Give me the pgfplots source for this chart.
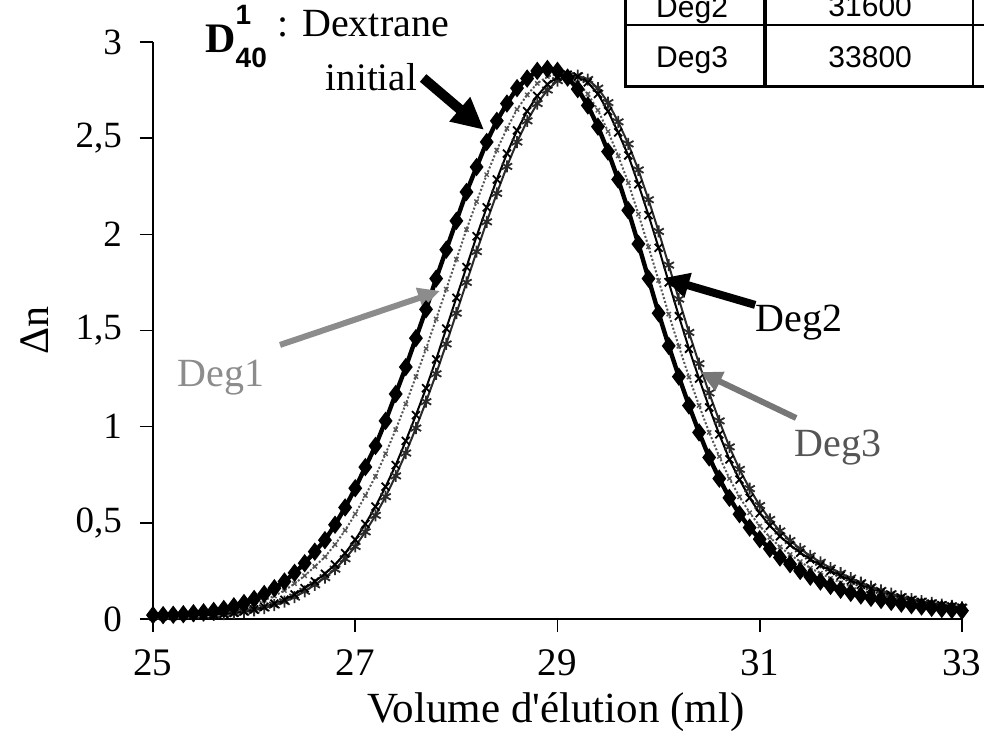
\documentclass[border=0pt]{standalone}
\usepackage{pgfplots}
\pgfplotsset{compat=1.18}
\usepackage{pgfplotstable}
\usepackage{fontspec}
\setmainfont{Liberation Serif}
\setsansfont{Liberation Sans}
\newfontfamily\rawserif{Liberation Serif}[Ligatures=TeXOff]
\usetikzlibrary{arrows.meta}
\definecolor{gA}{HTML}{8C8C8C}
\definecolor{gB}{HTML}{555555}
\definecolor{gC}{HTML}{777777}
\definecolor{gD}{HTML}{2A2A2A}

\pgfplotstableread{
x d0 deg1 deg2 deg3
25.0 0.020 0.018 0.015 0.015
25.1 0.020 0.018 0.015 0.015
25.2 0.022 0.019 0.016 0.016
25.3 0.025 0.021 0.017 0.017
25.4 0.030 0.024 0.018 0.018
25.5 0.035 0.028 0.020 0.019
25.6 0.042 0.033 0.023 0.022
25.7 0.052 0.040 0.027 0.025
25.8 0.066 0.049 0.032 0.030
25.9 0.083 0.062 0.040 0.036
26.0 0.104 0.077 0.050 0.045
26.1 0.130 0.097 0.063 0.057
26.2 0.160 0.120 0.080 0.072
26.3 0.195 0.148 0.100 0.090
26.4 0.240 0.184 0.128 0.114
26.5 0.290 0.225 0.160 0.144
26.6 0.350 0.273 0.195 0.178
26.7 0.410 0.323 0.235 0.215
26.8 0.490 0.387 0.283 0.259
26.9 0.580 0.461 0.342 0.313
27.0 0.680 0.546 0.412 0.377
27.1 0.790 0.642 0.494 0.453
27.2 0.900 0.742 0.584 0.539
27.3 1.030 0.859 0.688 0.636
27.4 1.170 0.985 0.800 0.744
27.5 1.310 1.118 0.926 0.863
27.6 1.460 1.260 1.060 0.993
27.7 1.610 1.405 1.200 1.130
27.8 1.770 1.560 1.350 1.275
27.9 1.920 1.715 1.510 1.430
28.0 2.070 1.870 1.670 1.590
28.1 2.220 2.025 1.830 1.750
28.2 2.350 2.170 1.990 1.910
28.3 2.480 2.310 2.140 2.065
28.4 2.590 2.438 2.285 2.213
28.5 2.680 2.550 2.420 2.353
28.6 2.760 2.650 2.540 2.480
28.7 2.810 2.725 2.640 2.590
28.8 2.850 2.785 2.720 2.680
28.9 2.860 2.820 2.780 2.750
29.0 2.850 2.834 2.818 2.799
29.1 2.815 2.823 2.830 2.824
29.2 2.755 2.788 2.820 2.825
29.3 2.670 2.730 2.790 2.805
29.4 2.560 2.645 2.730 2.760
29.5 2.430 2.535 2.640 2.685
29.6 2.285 2.408 2.530 2.585
29.7 2.125 2.268 2.410 2.470
29.8 1.950 2.105 2.260 2.335
29.9 1.770 1.935 2.100 2.180
30.0 1.590 1.760 1.930 2.015
30.1 1.420 1.585 1.750 1.840
30.2 1.260 1.418 1.575 1.663
30.3 1.110 1.258 1.405 1.490
30.4 0.970 1.110 1.250 1.328
30.5 0.840 0.970 1.100 1.175
30.6 0.730 0.845 0.960 1.030
30.7 0.630 0.730 0.830 0.895
30.8 0.545 0.635 0.725 0.778
30.9 0.475 0.553 0.630 0.678
31.0 0.415 0.483 0.550 0.590
31.1 0.365 0.425 0.485 0.518
31.2 0.320 0.375 0.430 0.458
31.3 0.285 0.335 0.385 0.408
31.4 0.250 0.298 0.345 0.365
31.5 0.220 0.265 0.310 0.328
31.6 0.195 0.238 0.280 0.295
31.7 0.172 0.211 0.250 0.265
31.8 0.152 0.189 0.225 0.238
31.9 0.136 0.168 0.200 0.213
32.0 0.122 0.150 0.178 0.189
32.1 0.110 0.134 0.158 0.168
32.2 0.099 0.120 0.140 0.149
32.3 0.089 0.107 0.124 0.132
32.4 0.080 0.095 0.110 0.117
32.5 0.072 0.085 0.098 0.104
32.6 0.065 0.077 0.088 0.093
32.7 0.058 0.069 0.079 0.084
32.8 0.052 0.062 0.071 0.075
32.9 0.047 0.056 0.064 0.068
33.0 0.043 0.051 0.058 0.061
}\data

\begin{document}
\begin{tikzpicture}
\useasboundingbox (-76.5pt,-62.5pt) rectangle (415.5pt,309.5pt);
\begin{axis}[
  at={(0,0)}, anchor=south west,
  scale only axis, width=404.5pt, height=288.5pt,
  xmin=25, xmax=33, ymin=0, ymax=3,
  axis x line*=bottom, axis y line*=left,
  axis line style={-, line width=0.8pt},
  xtick={25,27,29,31,33}, ytick={0,0.5,1,1.5,2,2.5,3},
  tick align=outside, major tick length=6.5pt,
  tick style={line width=0.8pt, black},
  /pgf/number format/assume math mode=true,
  /pgf/number format/use comma,
  xticklabel style={font=\fontsize{19.5}{23}\selectfont, anchor=center, yshift=-15.5pt},
  yticklabel style={font=\fontsize{18.5}{22}\selectfont, anchor=east, xshift=-5.5pt},
  xlabel={Volume d{\rawserif '}élution (ml)},
  ylabel={Δn},
  every axis x label/.style={at={(axis description cs:0.498,-0.161)}, anchor=center, font=\fontsize{21.5}{25}\selectfont},
  every axis y label/.style={at={(axis description cs:-0.146,0.5)}, anchor=center, rotate=90, font=\fontsize{21}{25}\selectfont},
  clip=false,
]
\addplot[gD, line width=1pt, mark=asterisk, mark size=3pt, mark options={solid, line width=0.9pt}] table[x=x, y=deg3] {\data};
\addplot[black, line width=1pt, mark=x, mark size=2.8pt, mark options={solid, line width=0.9pt}] table[x=x, y=deg2] {\data};
\addplot[gB, line width=1pt, densely dotted, mark=x, mark size=1.5pt, mark options={solid, line width=0.7pt}] table[x=x, y=deg1] {\data};
\addplot[black, line width=2.2pt, mark=diamond*, mark size=2.8pt, mark options={solid}] table[x=x, y=d0] {\data};

% annotations
\node[anchor=base west, inner sep=0pt, font=\fontsize{21}{25}\selectfont\bfseries] at (axis cs:25.514,2.948)
  {D\rlap{\raisebox{14pt}{\sffamily\fontsize{14}{16}\selectfont 1}}\raisebox{-7.5pt}{\sffamily\fontsize{14}{16}\selectfont 40}};
\node[anchor=center, inner sep=0pt, font=\fontsize{20}{24}\selectfont] at (axis cs:27.08,3.095) {: Dextrane};
\node[anchor=center, inner sep=0pt, font=\fontsize{19.5}{24}\selectfont] at (axis cs:27.16,2.816) {initial};
\draw[line width=5pt, -{Triangle[length=16pt, width=15pt]}] (axis cs:27.671,2.813) -- (axis cs:28.274,2.543);

\node[anchor=center, inner sep=0pt, text=gA, font=\fontsize{20}{24}\selectfont] at (axis cs:25.673,1.253) {Deg1};
\draw[gA, line width=3pt, -{Triangle[length=11pt, width=10pt]}] (axis cs:26.256,1.425) -- (axis cs:27.839,1.706);

\node[anchor=center, inner sep=0pt, font=\fontsize{20}{24}\selectfont] at (axis cs:31.39,1.539) {Deg2};
\draw[black, line width=4pt, -{Triangle[length=13pt, width=12pt]}] (axis cs:30.955,1.633) -- (axis cs:30.045,1.773);

\node[anchor=center, inner sep=0pt, text=gB, font=\fontsize{20}{24}\selectfont] at (axis cs:31.775,0.889) {Deg3};
\draw[gC, line width=3pt, -{Triangle[length=11pt, width=10pt]}] (axis cs:31.36,1.045) -- (axis cs:30.41,1.284);

% table (cut off at top right, as in the original)
\draw[line width=1.5pt] (axis cs:29.669,3.411) -- (axis cs:29.669,2.767) -- (axis cs:33.4,2.767);
\draw[line width=2pt] (axis cs:31.054,3.411) -- (axis cs:31.054,2.767);
\draw[line width=1pt] (axis cs:29.669,3.089) -- (axis cs:33.4,3.089);
\draw[line width=0.8pt] (axis cs:33.111,3.411) -- (axis cs:33.111,2.767);
\node[anchor=base, inner sep=0pt, font=\sffamily\fontsize{15}{17}\selectfont] at (axis cs:30.331,3.128) {Deg2};
\node[anchor=base, inner sep=0pt, font=\sffamily\fontsize{15}{17}\selectfont] at (axis cs:32.092,3.134) {31600};
\node[anchor=base, inner sep=0pt, font=\sffamily\fontsize{15}{17}\selectfont] at (axis cs:30.331,2.865) {Deg3};
\node[anchor=base, inner sep=0pt, font=\sffamily\fontsize{15}{17}\selectfont] at (axis cs:32.092,2.865) {33800};
\end{axis}
\end{tikzpicture}
\end{document}
